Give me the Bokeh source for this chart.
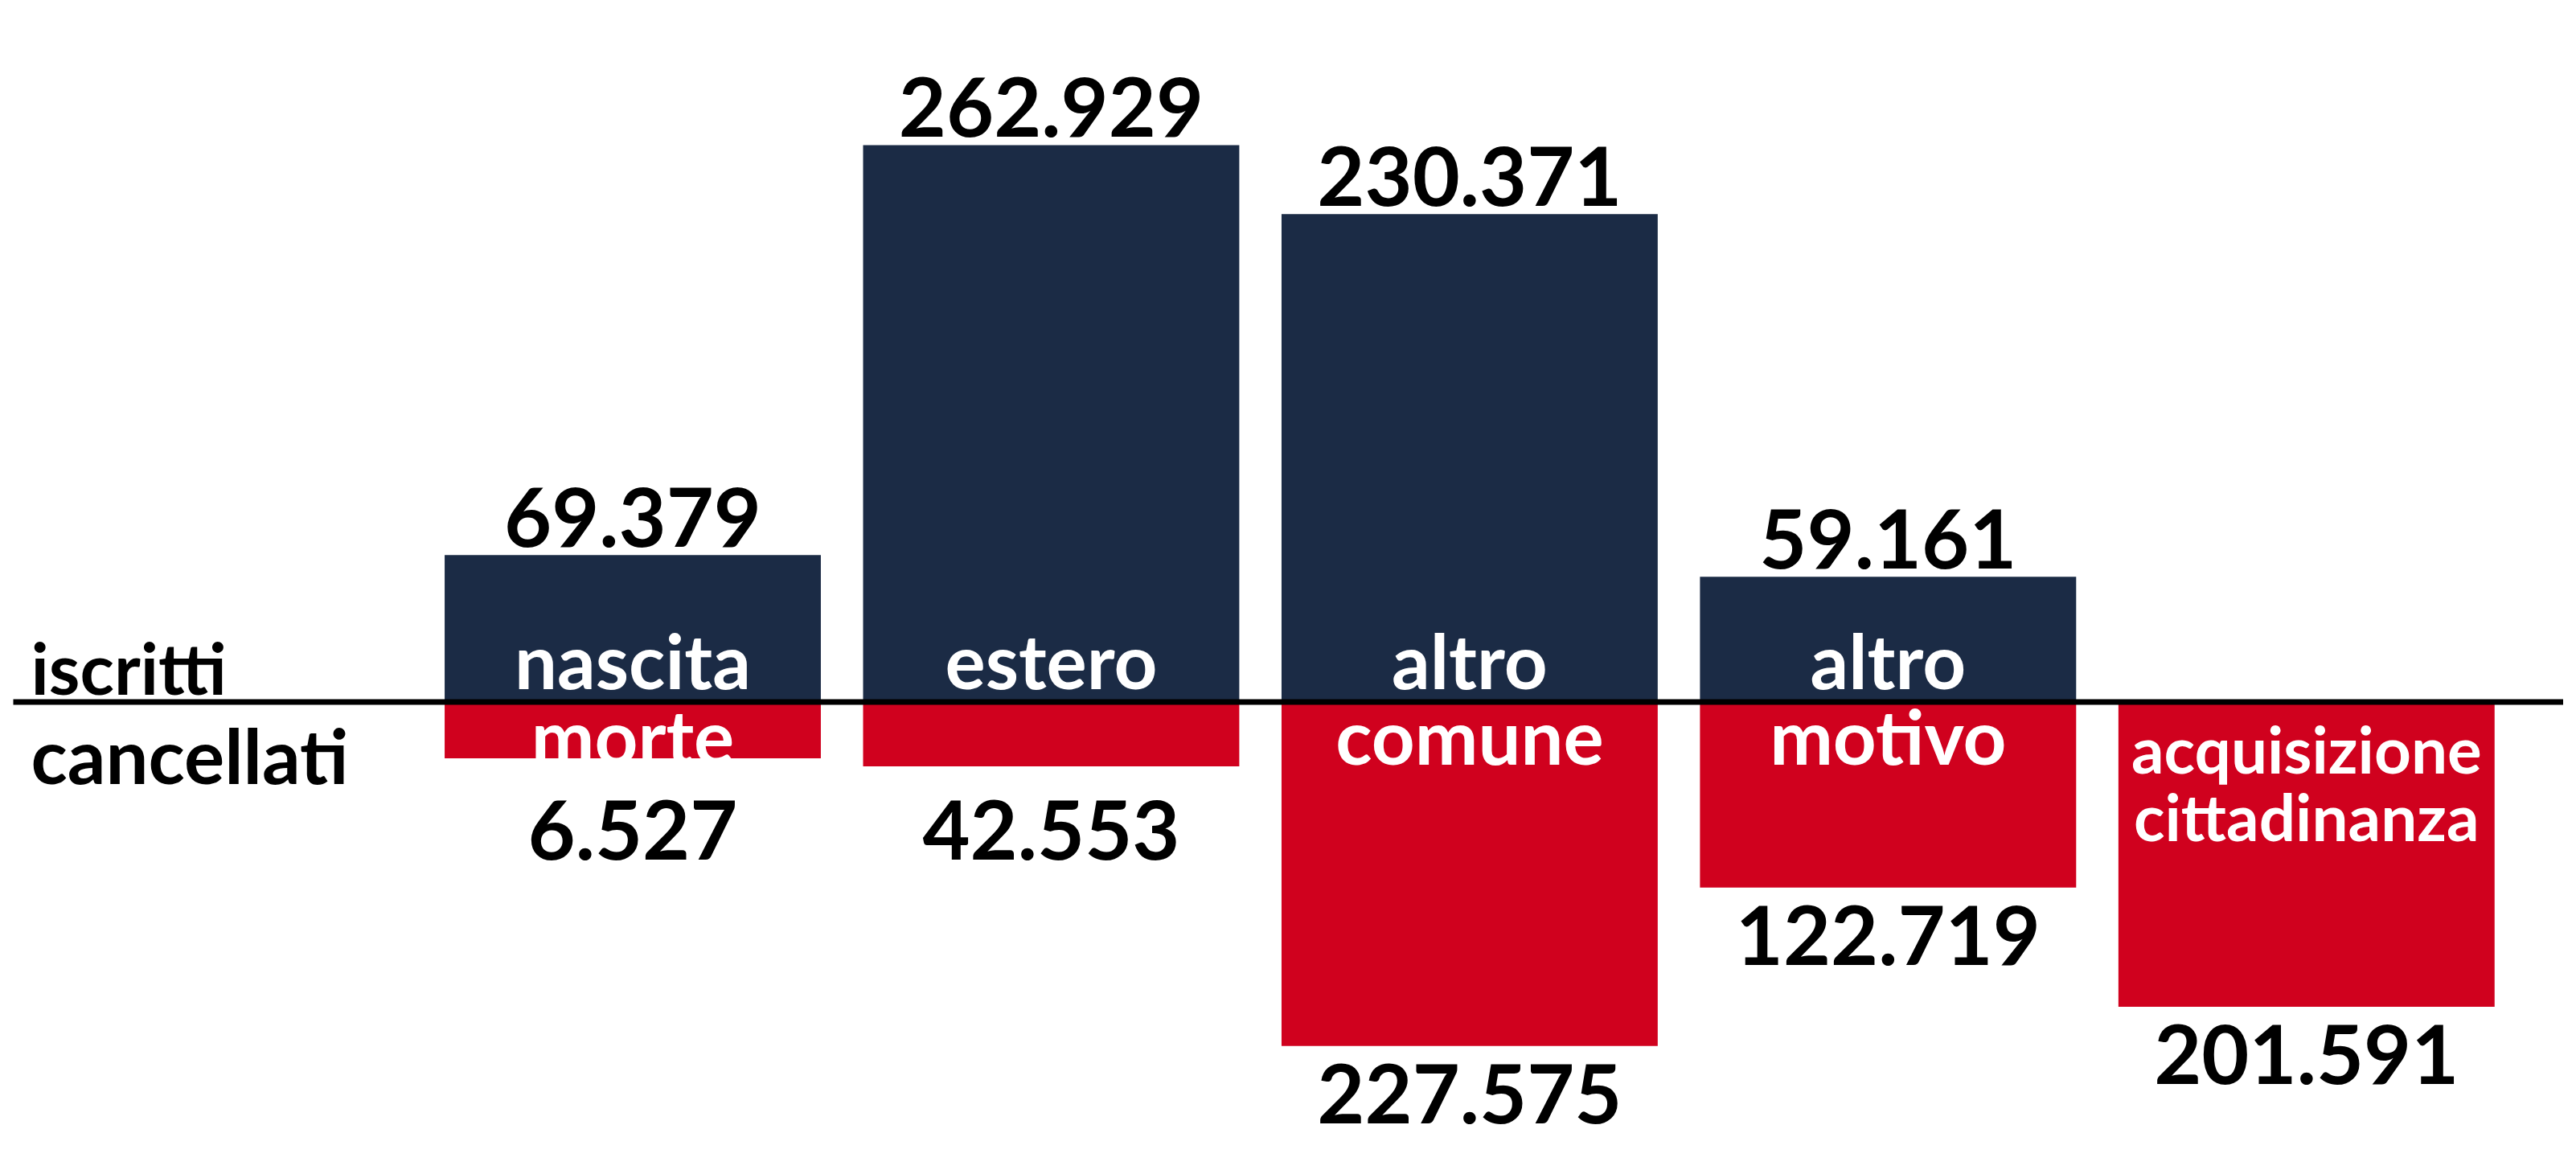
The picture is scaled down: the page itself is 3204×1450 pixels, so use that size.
from bokeh.plotting import figure
from bokeh.models import Range1d, ColumnDataSource
from bokeh.core.properties import value
from bokeh.embed import file_html
from bokeh.resources import INLINE

# ---- data ----
motivi = ["nascita / morte", "estero", "altro comune", "altro motivo", "acquisizione cittadinanza"]
etichette_iscritti = ["nascita", "estero", "altro", "altro", ""]
etichette_cancellati = ["morte", "", "comune", "motivo", "acquisizione\ncittadinanza"]
iscritti = [69379, 262929, 230371, 59161, None]
cancellati = [6527, 42553, 227575, 122719, 201591]
titolo_sopra = "iscritti"
titolo_sotto = "cancellati"

NAVY = "#1b2b45"
RED = "#d0011e"
FONT = value("Lato")


def fmt(v):
    return f"{v:,}".replace(",", ".")


# ---- layout ----
W, H = 3188, 1434
BASE = 872.5        # screen px (from top) of the zero line
STEP = 520.45       # px per category
X0 = 786.5          # px of the first category centre
K_ISC = 0.0026336   # px per unit, upper half
K_CAN = 0.00188     # px per unit, lower half
MIN_PX = 70         # minimum bar length so that the label fits inside
BASELINE_FIX = 0.28 # renderer baseline correction (fraction of font size)
LINE_LEFT_PX = 16   # where the zero line starts

NUM_FS = 102
CAT_FS = 94
SMALL_FS = 80


def off(px, fs):
    # desired baseline offset (px, +down) corrected for the renderer
    return px - BASELINE_FIX * fs


x_start = -X0 / STEP
x_end = x_start + W / STEP

p = figure(width=W, height=H,
           x_range=Range1d(x_start, x_end),
           y_range=Range1d(-(H - BASE) / K_ISC, BASE / K_ISC),
           output_backend="svg", toolbar_location=None, min_border=0,
           x_axis_location=None, y_axis_location=None)
p.extra_y_ranges = {"canc": Range1d(-(H - BASE) / K_CAN, BASE / K_CAN)}
p.grid.visible = False
p.outline_line_color = None
p.background_fill_color = "white"
p.border_fill_color = "white"

xs = list(range(len(motivi)))
BAR_W = 0.899

# upper bars (iscritti)
isc_x = [x for x, v in zip(xs, iscritti) if v is not None]
isc_v = [v for v in iscritti if v is not None]
src_isc = ColumnDataSource(dict(x=isc_x, top=isc_v, lab=[fmt(v) for v in isc_v]))
p.vbar(x="x", top="top", bottom=0, width=BAR_W, source=src_isc,
       fill_color=NAVY, line_color=None)

# lower bars (cancellati), with a minimum visible length for the label
min_units = MIN_PX / K_CAN
can_len = [max(v, min_units) for v in cancellati]
lab_off = [off(max(88, 188 - L * K_CAN), NUM_FS) for L in can_len]
src_can = ColumnDataSource(dict(x=xs, bottom=[-L for L in can_len],
                                lab=[fmt(v) for v in cancellati], off=lab_off))
p.vbar(x="x", top=0, bottom="bottom", width=BAR_W, source=src_can,
       fill_color=RED, line_color=None, y_range_name="canc")

# zero line
p.segment(x0=[x_start + LINE_LEFT_PX / STEP], x1=[x_end], y0=[0], y1=[0],
          line_color="black", line_width=7, line_cap="butt")

# value labels
p.text(x="x", y="top", text="lab", source=src_isc, text_align="center",
       text_baseline="alphabetic", y_offset=off(-19, NUM_FS), text_font=FONT,
       text_font_style="bold", text_font_size=value(f"{NUM_FS}px"), text_color="black")
p.text(x="x", y="bottom", text="lab", source=src_can, text_align="center",
       text_baseline="alphabetic", y_offset="off", text_font=FONT,
       text_font_style="bold", text_font_size=value(f"{NUM_FS}px"), text_color="black",
       y_range_name="canc")

# category labels inside the bars
p.text(x=isc_x, y=[0] * len(isc_x), text=[etichette_iscritti[i] for i in isc_x],
       text_align="center", text_baseline="alphabetic", y_offset=off(-26, CAT_FS),
       text_font=FONT, text_font_style="bold", text_font_size=value(f"{CAT_FS}px"),
       text_color="white")

one_x = [x for x, t in zip(xs, etichette_cancellati) if t and "\n" not in t]
one_t = [t for t in etichette_cancellati if t and "\n" not in t]
p.text(x=one_x, y=[0] * len(one_x), text=one_t, text_align="center",
       text_baseline="alphabetic", y_offset=off(68, CAT_FS), text_font=FONT,
       text_font_style="bold", text_font_size=value(f"{CAT_FS}px"), text_color="white")

two_x = [x for x, t in zip(xs, etichette_cancellati) if "\n" in t]
two_t = [t.split("\n") for t in etichette_cancellati if "\n" in t]
p.text(x=two_x, y=[0] * len(two_x), text=[t[0] for t in two_t], text_align="center",
       text_baseline="alphabetic", y_offset=off(80, SMALL_FS), text_font=FONT,
       text_font_style="bold", text_font_size=value(f"{SMALL_FS}px"), text_color="white")
p.text(x=two_x, y=[0] * len(two_x), text=[t[1] for t in two_t], text_align="center",
       text_baseline="alphabetic", y_offset=off(164, SMALL_FS), text_font=FONT,
       text_font_style="bold", text_font_size=value(f"{SMALL_FS}px"), text_color="white")

# side captions
x_cap = x_start + 38 / STEP
p.text(x=[x_cap], y=[0], text=[titolo_sopra], text_align="left",
       text_baseline="alphabetic", y_offset=off(-18, 88), text_font=FONT,
       text_font_style="bold", text_font_size=value("88px"), text_color="black")
p.text(x=[x_cap], y=[0], text=[titolo_sotto], text_align="left",
       text_baseline="alphabetic", y_offset=off(92, CAT_FS), text_font=FONT,
       text_font_style="bold", text_font_size=value(f"{CAT_FS}px"), text_color="black")

open("out.html", "w").write(file_html(p, INLINE))
